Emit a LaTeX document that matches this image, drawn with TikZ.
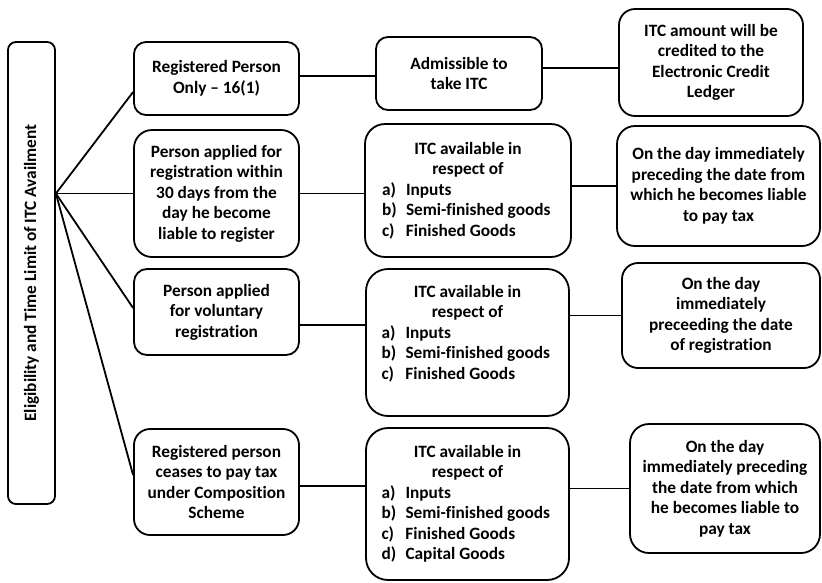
\documentclass[tikz,border=0pt]{standalone}
\usepackage{fontspec}
\setmainfont{Carlito}[Ligatures={TeX,NoCommon}]
\newcommand{\itcitem}[2]{\makebox[172pt][l]{\makebox[24pt][l]{#1}#2}}
\begin{document}
\begin{tikzpicture}[x=1pt, y=-1pt,
        box/.style={draw, line width=1.8pt, rounded corners=14pt, align=center, inner sep=2pt,
            font=\fontsize{17.3pt}{20.5pt}\selectfont\bfseries},
        link/.style={line width=1.8pt}]
    \useasboundingbox (0,0) rectangle (822,582);

    \node[box, rounded corners=8pt, minimum width=47pt, minimum height=462pt] (L) at (31.5,273)
        {\rotatebox{90}{Eligibility and Time Limit of ITC Availment}};

    \node[box, rounded corners=12pt, minimum width=165pt, minimum height=73pt] (P1) at (216.5,78.5)
        {Registered Person\\Only -- 16(1)};
    \node[box, rounded corners=18pt, minimum width=165pt, minimum height=127pt] (P2) at (216.5,193.5)
        {Person applied for\\registration within\\30 days from the\\day he become\\liable to register};
    \node[box, rounded corners=13pt, minimum width=165pt, minimum height=86pt] (P3) at (216.5,312)
        {Person applied\\for voluntary\\registration};
    \node[box, rounded corners=16pt, minimum width=165pt, minimum height=106pt] (P4) at (216.5,482)
        {Registered person\\ceases to pay tax\\under Composition\\Scheme};

    \node[box, rounded corners=12pt, minimum width=166pt, minimum height=73pt] (A1) at (459,73.5)
        {Admissible to\\take ITC};
    \node[box, rounded corners=20pt, minimum width=206pt, minimum height=133pt] (B) at (468,190.5)
        {ITC available in\\respect of\\\itcitem{a)}{Inputs}\\\itcitem{b)}{Semi-finished goods}\\\itcitem{c)}{Finished Goods}};
    \node[box, rounded corners=22pt, minimum width=203pt, minimum height=147pt] (C) at (467.5,342.5)
        {ITC available in\\respect of\\\itcitem{a)}{Inputs}\\\itcitem{b)}{Semi-finished goods}\\\itcitem{c)}{Finished Goods}\\\mbox{}};
    \node[box, rounded corners=22pt, minimum width=203pt, minimum height=152pt] (D) at (467.5,504)
        {ITC available in\\respect of\\\itcitem{a)}{Inputs}\\\itcitem{b)}{Semi-finished goods}\\\itcitem{c)}{Finished Goods}\\\itcitem{d)}{Capital Goods}};

    \node[box, rounded corners=16pt, minimum width=184pt, minimum height=107pt] (R1) at (711,62.5)
        {ITC amount will be\\credited to the\\Electronic Credit\\Ledger};
    \node[box, rounded corners=18pt, minimum width=203pt, minimum height=120pt] (R2) at (718.5,186)
        {On the day immediately\\preceding the date from\\which he becomes liable\\to pay tax};
    \node[box, rounded corners=16pt, minimum width=198pt, minimum height=105pt] (R3) at (721,315.5)
        {On the day\\immediately\\preceeding the date\\of registration};
    \node[box, rounded corners=19pt, minimum width=190pt, minimum height=129pt] (R4) at (725,488.5)
        {On the day\\immediately preceding\\the date from which\\he becomes liable to\\pay tax};

    \coordinate (hub) at (L.east |- P2.west);
    \draw[link] (hub) -- ([yshift=-13.5pt]P1.west);
    \draw[link] (hub) -- (P2.west);
    \draw[link] (hub) -- ([yshift=4pt]P3.west);
    \draw[link] (hub) -- ([yshift=7pt]P4.west);

    \draw[link] ([yshift=2.5pt]P1.east) coordinate (p1r) -- (p1r -| A1.west);
    \draw[link] ([yshift=5.5pt]A1.east) coordinate (a1r) -- (a1r -| R1.west);
    \draw[link] (P2.east) -- (P2.east -| B.west);
    \draw[link] (B.east |- R2.west) -- (R2.west);
    \draw[link] ([yshift=-13pt]P3.east) coordinate (p3r) -- (p3r -| C.west);
    \draw[link] (C.east |- R3.west) -- (R3.west);
    \draw[link] ([yshift=-4pt]P4.east) coordinate (p4r) -- (p4r -| D.west);
    \draw[link] (D.east |- R4.west) -- (R4.west);
\end{tikzpicture}
\end{document}
